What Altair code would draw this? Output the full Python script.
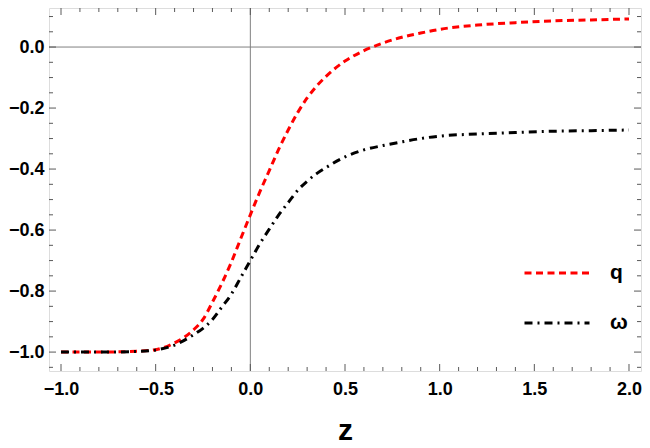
import altair as alt
import pandas as pd
import numpy as np

# ---- data ----
z_vals = [-1.0, -0.8, -0.6, -0.5, -0.4, -0.3, -0.25, -0.2, -0.15, -0.1, -0.05,
          0.0, 0.05, 0.1, 0.15, 0.2, 0.25, 0.3, 0.35, 0.4, 0.5, 0.6, 0.7, 0.8,
          0.9, 1.0, 1.2, 1.4, 1.6, 1.8, 2.0]
q_vals = [-1.0, -1.0, -0.997, -0.992, -0.97, -0.927, -0.893, -0.836, -0.774, -0.705, -0.627,
          -0.55, -0.475, -0.405, -0.335, -0.272, -0.215, -0.167, -0.128, -0.096, -0.046, -0.012, 0.013, 0.032,
          0.046, 0.058, 0.072, 0.080, 0.086, 0.089, 0.092]
w_vals = [-1.0, -1.0, -0.998, -0.993, -0.977, -0.943, -0.922, -0.893, -0.852, -0.81, -0.755,
          -0.70, -0.645, -0.597, -0.55, -0.51, -0.47, -0.44, -0.415, -0.395, -0.36, -0.337, -0.323, -0.311,
          -0.300, -0.292, -0.285, -0.280, -0.276, -0.274, -0.272]
series_names = ["q", "ω"]

x_major = [-1.0, -0.5, 0.0, 0.5, 1.0, 1.5, 2.0]
x_minor = [round(v, 2) for v in np.arange(-1.0, 2.001, 0.1) if all(abs(v - m) > 1e-6 for m in x_major)]
y_major = [-1.0, -0.8, -0.6, -0.4, -0.2, 0.0]
y_minor = [round(v, 2) for v in np.arange(-1.05, 0.101, 0.05) if all(abs(v - m) > 1e-6 for m in y_major)]

X_DOM = [-1.0634, 2.0634]
Y_DOM = [-1.062, 0.128]
W, H = 592, 363
FRAME = "#5a5a5a"
FONT = "Liberation Sans"

df = pd.DataFrame({
    "z": z_vals * 2,
    "val": q_vals + w_vals,
    "series": [series_names[0]] * len(z_vals) + [series_names[1]] * len(z_vals),
})

xs = alt.Scale(domain=X_DOM, nice=False, zero=False)
ys = alt.Scale(domain=Y_DOM, nice=False, zero=False)

xaxis = alt.Axis(values=x_major, format=".1f", ticks=False, domain=False, grid=False,
                 labelFont=FONT, labelFontWeight="bold", labelFontSize=18, labelColor="black",
                 labelPadding=9, title="z", titleFont=FONT, titleFontWeight="bold",
                 titleFontSize=30, titleColor="black", titlePadding=17)
yaxis = alt.Axis(values=y_major, format=".1f", ticks=False, domain=False, grid=False,
                 labelFont=FONT, labelFontWeight="bold", labelFontSize=18, labelColor="black",
                 labelPadding=5, title=None)

lines = alt.Chart(df).mark_line(strokeWidth=3, interpolate="monotone", clip=True).encode(
    x=alt.X("z:Q", scale=xs, axis=xaxis),
    y=alt.Y("val:Q", scale=ys, axis=yaxis),
    color=alt.Color("series:N", scale=alt.Scale(domain=series_names, range=["#ff0000", "#000000"]),
                    legend=alt.Legend(title=None, orient="none", legendX=474, legendY=231,
                                      symbolType="stroke", symbolSize=4225, symbolStrokeWidth=3,
                                      labelFont=FONT, labelFontSize=21, labelFontWeight="bold",
                                      labelColor="black", labelOffset=19, rowPadding=6,
                                      padding=0)),
    strokeDash=alt.StrokeDash("series:N", scale=alt.Scale(domain=series_names,
                                                          range=[[7, 4.5], [8, 5, 2, 5]]),
                              legend=None),
    order="z:Q",
)

zero_v = alt.Chart(pd.DataFrame({"v": [0.0]})).mark_rule(color="#808080", strokeWidth=1).encode(
    x=alt.X("v:Q", scale=xs))
zero_h = alt.Chart(pd.DataFrame({"v": [0.0]})).mark_rule(color="#808080", strokeWidth=1).encode(
    y=alt.Y("v:Q", scale=ys))

def xticks(vals, length):
    d = pd.DataFrame({"t": vals})
    bot = alt.Chart(d).mark_rule(color=FRAME, strokeWidth=1).encode(
        x=alt.X("t:Q", scale=xs), y=alt.value(H), y2=alt.value(H - length))
    top = alt.Chart(d).mark_rule(color=FRAME, strokeWidth=1).encode(
        x=alt.X("t:Q", scale=xs), y=alt.value(0), y2=alt.value(length))
    return [bot, top]

def yticks(vals, length):
    d = pd.DataFrame({"t": vals})
    left = alt.Chart(d).mark_rule(color=FRAME, strokeWidth=1).encode(
        y=alt.Y("t:Q", scale=ys), x=alt.value(0), x2=alt.value(length))
    right = alt.Chart(d).mark_rule(color=FRAME, strokeWidth=1).encode(
        y=alt.Y("t:Q", scale=ys), x=alt.value(W), x2=alt.value(W - length))
    return [left, right]

layers = [zero_v, zero_h] + xticks(x_major, 7) + xticks(x_minor, 4) + \
    yticks(y_major, 7) + yticks(y_minor, 4) + [lines]

chart = alt.layer(*layers).properties(
    width=W, height=H,
    autosize=alt.AutoSizeParams(type="none"),
    padding={"left": 41, "top": 0, "right": 1, "bottom": 76},
).configure_view(stroke=FRAME, strokeWidth=1.3).configure(background="white")

chart.save("out.html", embed_options={"renderer": "svg", "actions": False})
